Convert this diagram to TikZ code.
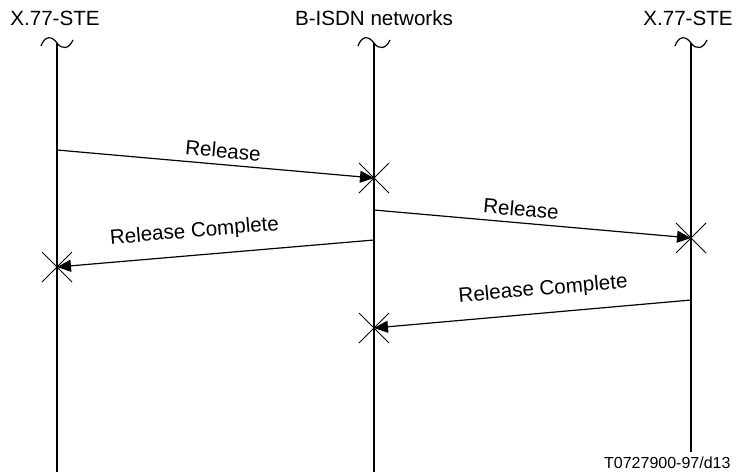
\documentclass[tikz,border=0pt]{standalone}
\usepackage{fontspec}
\setmainfont{Liberation Sans}
\usetikzlibrary{arrows.meta}

\begin{document}
\begin{tikzpicture}[x=1pt,y=-1pt,
  lifeline/.style={line width=2pt},
  wave/.style={line width=1.2pt},
  msg/.style={line width=1.2pt,-{Triangle[length=14pt,width=12pt]}},
  lbl/.style={font=\fontsize{20.6}{24}\selectfont,sloped,above=4pt,inner sep=2pt},
  title/.style={font=\fontsize{20.6}{24}\selectfont,anchor=base},
  crossmark/.style={line width=0.8pt}]
\useasboundingbox (0,0) rectangle (736,472);
\node[title] (steA) at (55,25) {X.77-STE};
\node[title] (net) at (374,25) {B-ISDN networks};
\node[title] (steB) at (688,25) {X.77-STE};
\foreach \x/\e in {57/472,374/472,691/452} {
  \draw[wave] (\x-16,46) .. controls (\x-12,35) and (\x-5,36) .. (\x,43) .. controls (\x+5,50) and (\x+12,49) .. (\x+16,40);
  \draw[lifeline] (\x,43) -- (\x,\e);
}
\coordinate (r1s) at (57,150);
\coordinate (r1e) at (374,178);
\coordinate (r2s) at (374,210);
\coordinate (r2e) at (691,238);
\coordinate (c1s) at (374,240);
\coordinate (c1e) at (57,267);
\coordinate (c2s) at (691,300);
\coordinate (c2e) at (374,328);
\draw[msg] (r1s) -- node[lbl,pos=.52] {Release} (r1e);
\draw[msg] (r2s) -- node[lbl,pos=.46] {Release} (r2e);
\draw[msg] (c1s) -- node[lbl,pos=.56,above=7pt] {Release Complete} (c1e);
\draw[msg] (c2s) -- node[lbl,pos=.46,above=7pt] {Release Complete} (c2e);
\foreach \c in {r1e,r2e,c1e,c2e}
  \draw[crossmark] (\c) +(-15,-15) -- +(15,15) (\c) +(-15,15) -- +(15,-15);
\node[font=\fontsize{16}{19}\selectfont,anchor=base east] (ref) at (734,468) {T0727900-97/d13};
\end{tikzpicture}
\end{document}
